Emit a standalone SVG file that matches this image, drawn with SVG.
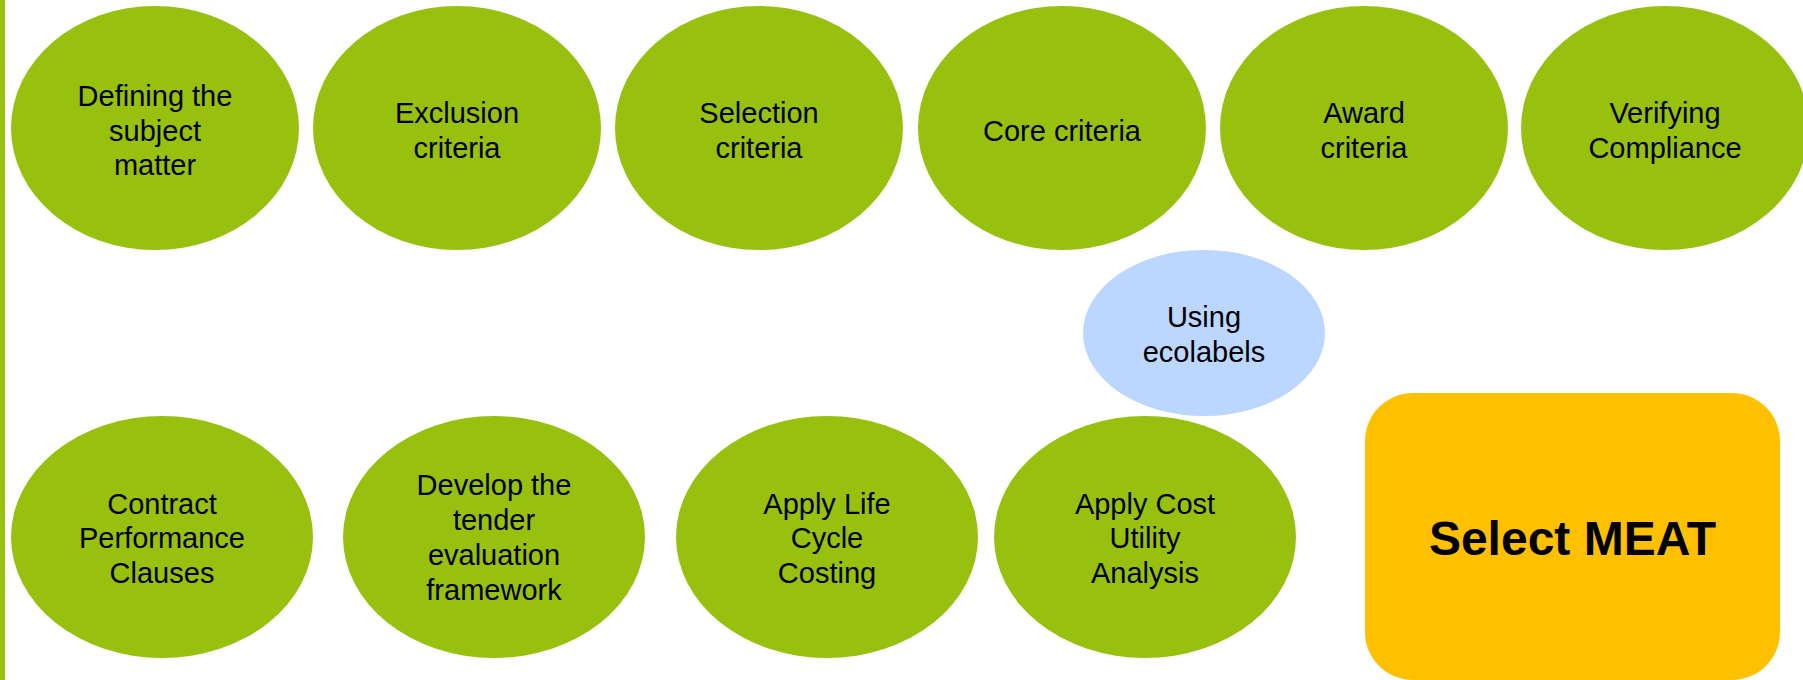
<svg xmlns="http://www.w3.org/2000/svg" width="1803" height="680" viewBox="0 0 1803 680">
<style>
.g{fill:#97C10E}
.b{fill:#BBD6FF}
.t{font-family:"Liberation Sans",Arial,sans-serif;font-size:29px;fill:#000;text-anchor:middle}
.m{font-family:"Liberation Sans",Arial,sans-serif;font-size:48px;font-weight:bold;fill:#000;text-anchor:middle}
</style>
<rect width="1803" height="680" fill="#fff"/>
<rect x="0" y="0" width="5" height="680" fill="#97C10E"/>
<g id="connectors"/>
<g id="n1"><ellipse class="g" cx="155" cy="128" rx="144" ry="122"/>
<text class="t" x="155"><tspan x="155" y="106">Defining the</tspan><tspan x="155" y="140.5">subject</tspan><tspan x="155" y="175">matter</tspan></text></g>
<g id="n2"><ellipse class="g" cx="457" cy="128" rx="144" ry="122"/>
<text class="t"><tspan x="457" y="123">Exclusion</tspan><tspan x="457" y="157.5">criteria</tspan></text></g>
<g id="n3"><ellipse class="g" cx="759" cy="128" rx="144" ry="122"/>
<text class="t"><tspan x="759" y="123">Selection</tspan><tspan x="759" y="157.5">criteria</tspan></text></g>
<g id="n4"><ellipse class="g" cx="1062" cy="128" rx="144" ry="122"/>
<text class="t"><tspan x="1062" y="140.5">Core criteria</tspan></text></g>
<g id="n5"><ellipse class="g" cx="1364" cy="128" rx="144" ry="122"/>
<text class="t"><tspan x="1364" y="123">Award</tspan><tspan x="1364" y="157.5">criteria</tspan></text></g>
<g id="n6"><ellipse class="g" cx="1665" cy="128" rx="144" ry="122"/>
<text class="t"><tspan x="1665" y="123">Verifying</tspan><tspan x="1665" y="157.5">Compliance</tspan></text></g>
<g id="n7"><ellipse class="b" cx="1204" cy="333" rx="121" ry="83"/>
<text class="t"><tspan x="1204" y="327">Using</tspan><tspan x="1204" y="361.5">ecolabels</tspan></text></g>
<g id="n8"><ellipse class="g" cx="162" cy="537" rx="151" ry="121"/>
<text class="t"><tspan x="162" y="513.5">Contract</tspan><tspan x="162" y="548">Performance</tspan><tspan x="162" y="582.5">Clauses</tspan></text></g>
<g id="n9"><ellipse class="g" cx="494" cy="537" rx="151" ry="121"/>
<text class="t"><tspan x="494" y="494.5">Develop the</tspan><tspan x="494" y="529.5">tender</tspan><tspan x="494" y="564.5">evaluation</tspan><tspan x="494" y="599.5">framework</tspan></text></g>
<g id="n10"><ellipse class="g" cx="827" cy="537" rx="151" ry="121"/>
<text class="t"><tspan x="827" y="513.5">Apply Life</tspan><tspan x="827" y="548">Cycle</tspan><tspan x="827" y="582.5">Costing</tspan></text></g>
<g id="n11"><ellipse class="g" cx="1145" cy="537" rx="151" ry="121"/>
<text class="t"><tspan x="1145" y="513.5">Apply Cost</tspan><tspan x="1145" y="548">Utility</tspan><tspan x="1145" y="582.5">Analysis</tspan></text></g>
<g id="n12"><rect x="1365" y="393" width="415" height="287" rx="48" ry="48" fill="#FFC000"/>
<text class="m" x="1572.5" y="555">Select MEAT</text></g>
</svg>
